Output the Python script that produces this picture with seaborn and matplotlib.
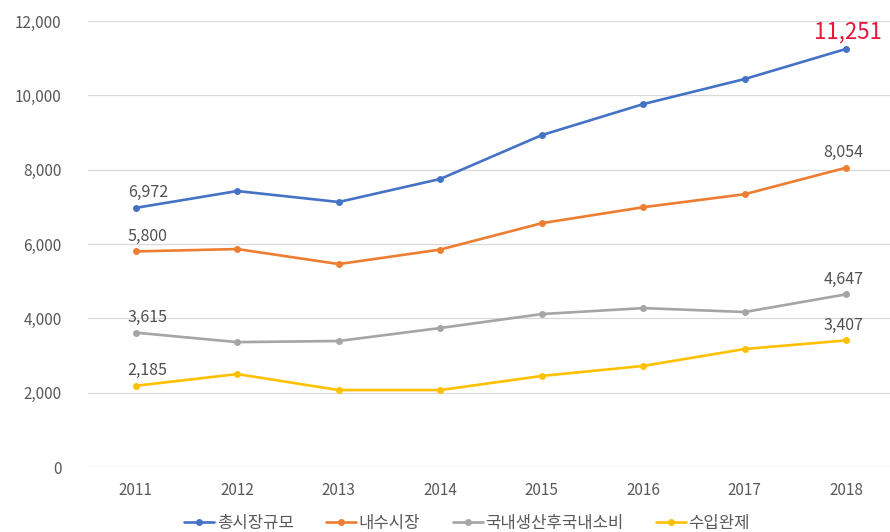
import pandas as pd
import matplotlib.pyplot as plt
import seaborn as sns

# =====================================================
# DATA
# =====================================================

years = ["2011", "2012", "2013", "2014", "2015", "2016", "2017", "2018"]

total_market = [6972, 7425, 7130, 7750, 8930, 9765, 10440, 11251]
domestic_market = [5800, 5864, 5460, 5850, 6560, 6990, 7340, 8054]
domestic_consumption = [3615, 3360, 3390, 3740, 4115, 4275, 4170, 4647]
imported_goods = [2185, 2500, 2070, 2070, 2450, 2720, 3175, 3407]

series_names = ["총시장규모", "내수시장", "국내생산후국내소비", "수입완제"]
series_values = [total_market, domestic_market, domestic_consumption, imported_goods]
colors = ["#4472C4", "#ED7D31", "#A5A5A5", "#FFC000"]

# =====================================================
# PLOT
# =====================================================

sns.set_theme(style="white")
plt.rcParams["font.family"] = ["Noto Sans CJK KR", "DejaVu Sans"]

fig = plt.figure(figsize=(8.9, 5.32), dpi=100)
ax = fig.add_axes([88 / 890, 65 / 532, 802 / 890, 446 / 532])

for name, values, color in zip(series_names, series_values, colors):
    df = pd.DataFrame({"year": range(len(years)), "value": values})
    sns.lineplot(
        data=df,
        x="year",
        y="value",
        color=color,
        marker="o",
        markersize=5,
        markeredgewidth=0,
        linewidth=1.9,
        label=name,
        ax=ax
    )

# data labels at first and last points
label_color = "#505050"
for values in series_values:
    ax.annotate(
        f"{values[0]:,}",
        (0, values[0]),
        xytext=(12, 15),
        textcoords="offset pixels",
        ha="center",
        va="center",
        fontsize=11.5,
        color=label_color
    )

for values in series_values[1:]:
    ax.annotate(
        f"{values[-1]:,}",
        (len(years) - 1, values[-1]),
        xytext=(-3, 15),
        textcoords="offset pixels",
        ha="center",
        va="center",
        fontsize=11.5,
        color=label_color
    )

ax.annotate(
    f"{total_market[-1]:,}",
    (len(years) - 1, total_market[-1]),
    xytext=(2, 17),
    textcoords="offset pixels",
    ha="center",
    va="center",
    fontsize=16,
    color="#E5173A",
    annotation_clip=False
)

# =====================================================
# AXES
# =====================================================

ax.set_xlim(-0.47, 7.43)
ax.set_ylim(0, 12000)
ax.set_xticks(range(len(years)))
ax.set_xticklabels(years)
ax.set_yticks(range(0, 12001, 2000))
ax.set_yticklabels([f"{v:,}" for v in range(0, 12001, 2000)])
ax.set_xlabel("")
ax.set_ylabel("")
ax.tick_params(axis="both", length=0, labelsize=11, labelcolor="#595959")
ax.tick_params(axis="x", pad=11)
ax.tick_params(axis="y", pad=19)

ax.grid(axis="y", color="#D9D9D9", linewidth=0.9)
ax.set_axisbelow(True)
for spine in ax.spines.values():
    spine.set_visible(False)

ax.legend(
    loc="center",
    bbox_to_anchor=(0.4726, -0.127),
    ncol=4,
    frameon=False,
    fontsize=12,
    handlelength=1.8,
    handletextpad=0.15,
    columnspacing=1.95,
    labelcolor="#595959"
)

plt.savefig("out.png", dpi=100)
plt.close()
